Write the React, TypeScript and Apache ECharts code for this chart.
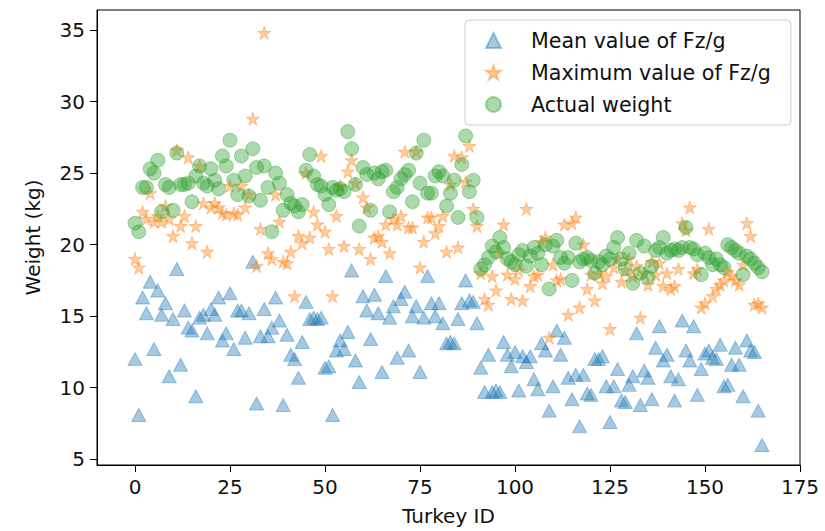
import React, { useEffect, useRef } from 'react';
import * as echarts from 'echarts';

const seriesNames = ['Mean value of Fz/g', 'Maximum value of Fz/g', 'Actual weight'];

const meanFz = [
  12.0, 8.1, 16.3, 15.2, 17.4, 12.7, 16.8, 15.1, 15.9, 10.8,
  14.8, 18.3, 11.6, 15.4, 14.2, 14.0, 9.4, 14.9, 15.1, 13.8,
  15.5, 15.1, 16.3, 13.3, 13.8, 16.6, 12.7, 15.4, 15.4, 13.5,
  15.2, 18.8, 8.9, 13.6, 15.5, 13.6, 14.2, 16.3, 14.7, 8.8,
  13.7, 12.3, 12.0, 10.7, 13.2, 16.0, 14.8, 14.9, 14.8, 14.9,
  11.4, 11.5, 8.1, 12.6, 13.3, 12.7, 13.9, 18.2, 11.9, 10.4,
  16.4, 15.4, 13.4, 16.5, 15.2, 11.1, 17.8, 14.9, 15.7, 12.1,
  16.2, 16.7, 12.6, 15.0, 15.7, 11.1, 14.9, 17.8, 15.9, 15.0,
  15.9, 14.5, 13.1, 13.2, 13.1, 14.8, 15.9, 17.5, 16.1, 16.0,
  14.5, 11.4, 9.7, 12.3, 9.7, 9.8, 9.7, 13.2, 12.3, 11.5,
  12.5, 9.8, 12.2, 11.8, 12.2, 10.6, 9.9, 13.1, 12.6, 8.4,
  10.1, 14.0, 12.3, 13.5, 10.7, 9.2, 10.9, 7.3, 10.9, 9.6,
  9.5, 12.0, 12.0, 12.2, 10.1, 7.6, 10.1, 11.3, 9.1, 9.0,
  10.2, 10.8, 13.8, 8.8, 11.2, 10.7, 9.2, 12.8, 14.3, 11.9,
  12.3, 10.8, 9.1, 10.6, 14.7, 12.6, 11.9, 14.3, 9.5, 11.3,
  12.4, 12.6, 12.1, 12.0, 13.0, 10.1, 10.2, 11.6, 12.8, 11.6,
  9.4, 13.3, 12.6, 12.5, 8.4, 6.0,
];

const maxFz = [
  19.0, 18.4, 22.3, 21.8, 23.6, 21.6, 22.0, 21.6, 22.7, 21.8,
  20.6, 26.6, 21.3, 22.0, 26.1, 20.1, 21.3, 25.5, 22.9, 19.5,
  22.6, 22.9, 22.6, 22.2, 22.1, 24.1, 22.2, 22.1, 24.1, 22.6,
  23.5, 28.8, 18.5, 21.1, 34.8, 19.4, 19.0, 23.5, 21.6, 18.8,
  18.7, 19.5, 16.4, 20.6, 20.1, 25.0, 20.5, 22.3, 21.4, 26.2,
  20.9, 19.7, 16.4, 22.0, 24.1, 19.9, 25.1, 25.9, 24.3, 19.7,
  23.3, 22.6, 19.0, 20.5, 20.6, 20.2, 21.4, 19.4, 21.8, 21.4,
  22.0, 26.5, 21.2, 21.2, 26.5, 18.4, 20.2, 21.9, 21.9, 20.8,
  21.3, 22.0, 19.5, 24.2, 26.2, 19.8, 26.1, 24.4, 26.9, 22.5,
  21.3, 18.0, 16.2, 15.8, 17.8, 16.8, 19.4, 21.4, 17.9, 16.2,
  17.6, 18.2, 16.1, 22.5, 17.1, 17.8, 17.9, 20.2, 20.5, 13.5,
  18.6, 17.5, 17.6, 21.4, 15.1, 21.5, 21.9, 15.6, 20.0, 16.9,
  17.9, 16.1, 18.0, 17.3, 17.8, 14.1, 18.4, 19.0, 17.4, 18.2,
  19.0, 17.8, 18.5, 14.9, 18.0, 17.2, 18.8, 17.9, 18.7, 17.1,
  18.0, 16.9, 17.1, 18.3, 21.5, 21.0, 22.6, 18.0, 18.3, 15.6,
  15.9, 21.1, 16.4, 16.9, 17.2, 17.5, 18.1, 17.8, 17.5, 17.2,
  18.6, 21.5, 20.6, 15.8, 15.9, 15.6,
];

const actualWeight = [
  21.5, 20.9, 24.0, 24.0, 25.3, 25.0, 25.9, 22.3, 24.2, 24.0,
  22.4, 26.4, 24.2, 24.2, 24.3, 23.0, 24.8, 25.5, 24.3, 24.1,
  25.3, 24.5, 23.9, 26.2, 25.5, 27.3, 24.5, 23.5, 26.2, 24.8,
  23.4, 26.7, 25.4, 23.1, 25.5, 24.0, 20.9, 25.0, 24.3, 22.4,
  23.5, 22.9, 22.7, 22.3, 22.8, 25.2, 26.3, 24.8, 24.2, 24.1,
  23.5, 22.8, 24.0, 23.8, 23.9, 23.7, 27.9, 26.7, 24.2, 21.3,
  25.4, 24.9, 22.4, 25.0, 24.6, 25.1, 25.2, 22.3, 23.7, 24.0,
  24.6, 24.9, 25.2, 23.0, 26.4, 24.3, 27.3, 23.6, 23.6, 24.8,
  25.1, 24.8, 22.7, 23.6, 24.5, 21.9, 25.6, 27.6, 23.7, 24.5,
  21.9, 18.3, 18.6, 19.1, 19.9, 19.5, 20.5, 19.8, 19.0, 18.8,
  18.6, 19.3, 19.6, 18.5, 19.2, 19.8, 19.4, 18.6, 20.0, 16.9,
  19.9, 20.3, 19.1, 18.7, 19.1, 17.5, 20.1, 18.8, 19.0, 19.1,
  18.9, 18.0, 18.8, 18.6, 19.2, 19.0, 19.8, 20.5, 19.0, 18.3,
  19.4, 17.3, 20.3, 18.0, 19.9, 17.7, 18.5, 19.6, 19.8, 20.5,
  19.4, 19.6, 19.7, 19.6, 19.8, 21.2, 19.8, 19.7, 19.3, 17.9,
  19.4, 19.1, 18.6, 19.0, 18.6, 18.4, 20.0, 19.8, 19.6, 19.4,
  17.9, 19.2, 19.0, 18.7, 18.4, 18.1,
];

const xTicks = [0, 25, 50, 75, 100, 125, 150, 175];
const yTicks = [5, 10, 15, 20, 25, 30, 35];

const STAR = 'path://M10,0L12.245,6.91L19.511,6.91L13.633,11.18L15.878,18.09L10,13.82L4.122,18.09L6.367,11.18L0.489,6.91L7.755,6.91Z';

const toPoints = (vals: number[]) => vals.map((v, i) => [i, v]);

const FONT = 'DejaVu Sans';
const TEXT = '#111';
const BLUE = 'rgba(31,119,180,0.5)';
const ORANGE = 'rgba(255,127,14,0.5)';
const GREEN = 'rgba(44,160,44,0.5)';

export default function App() {
  const ref = useRef<HTMLDivElement>(null);
  useEffect(() => {
    const chart = echarts.init(ref.current!, null, { renderer: 'svg' });
    chart.setOption({
      animation: false,
      backgroundColor: '#fff',
      textStyle: { fontFamily: FONT },
      grid: {
        left: 97, right: 25, top: 10, bottom: 64,
        show: true, borderColor: '#000', borderWidth: 1, backgroundColor: 'transparent',
      },
      legend: {
        orient: 'vertical',
        left: 465,
        top: 20,
        padding: [10, 20, 10, 20],
        itemGap: 11,
        itemWidth: 15,
        itemHeight: 15,
        borderColor: '#cccccc',
        borderWidth: 1,
        borderRadius: 4,
        backgroundColor: 'rgba(255,255,255,0.8)',
        textStyle: { fontFamily: FONT, fontSize: 20.6, color: TEXT, padding: [0, 0, 0, 25], lineHeight: 20 },
        data: seriesNames,
      },
      xAxis: {
        type: 'value',
        min: -10,
        max: 175,
        name: 'Turkey ID',
        nameLocation: 'middle',
        nameGap: 41,
        nameTextStyle: { fontFamily: FONT, fontSize: 20, color: TEXT },
        axisLine: { show: true, onZero: false, lineStyle: { color: '#000', width: 1 } },
        axisTick: { show: true, length: 7, lineStyle: { color: '#000' }, customValues: xTicks },
        axisLabel: { fontFamily: FONT, fontSize: 20, color: TEXT, margin: 12, customValues: xTicks },
        splitLine: { show: false },
      },
      yAxis: {
        type: 'value',
        min: 4.6,
        max: 36.4,
        name: 'Weight (kg)',
        nameLocation: 'middle',
        nameGap: 54,
        nameTextStyle: { fontFamily: FONT, fontSize: 20, color: TEXT },
        axisLine: { show: true, onZero: false, lineStyle: { color: '#000', width: 1 } },
        axisTick: { show: true, length: 7, lineStyle: { color: '#000' }, customValues: yTicks },
        axisLabel: { fontFamily: FONT, fontSize: 20, color: TEXT, margin: 12, customValues: yTicks },
        splitLine: { show: false },
      },
      series: [
        {
          name: seriesNames[0],
          type: 'scatter',
          symbol: 'triangle',
          symbolSize: [14, 13],
          itemStyle: { color: BLUE, borderColor: BLUE, borderWidth: 1 },
          data: toPoints(meanFz),
        },
        {
          name: seriesNames[1],
          type: 'scatter',
          symbol: STAR,
          symbolSize: 13,
          itemStyle: { color: ORANGE, borderColor: ORANGE, borderWidth: 1 },
          data: toPoints(maxFz),
        },
        {
          name: seriesNames[2],
          type: 'scatter',
          symbol: 'circle',
          symbolSize: 14,
          itemStyle: { color: GREEN, borderColor: GREEN, borderWidth: 1 },
          data: toPoints(actualWeight),
        },
      ],
    });
    return () => chart.dispose();
  }, []);
  return <div ref={ref} style={{ position: 'fixed', left: 0, top: 0, width: 825, height: 531 }} />;
}
